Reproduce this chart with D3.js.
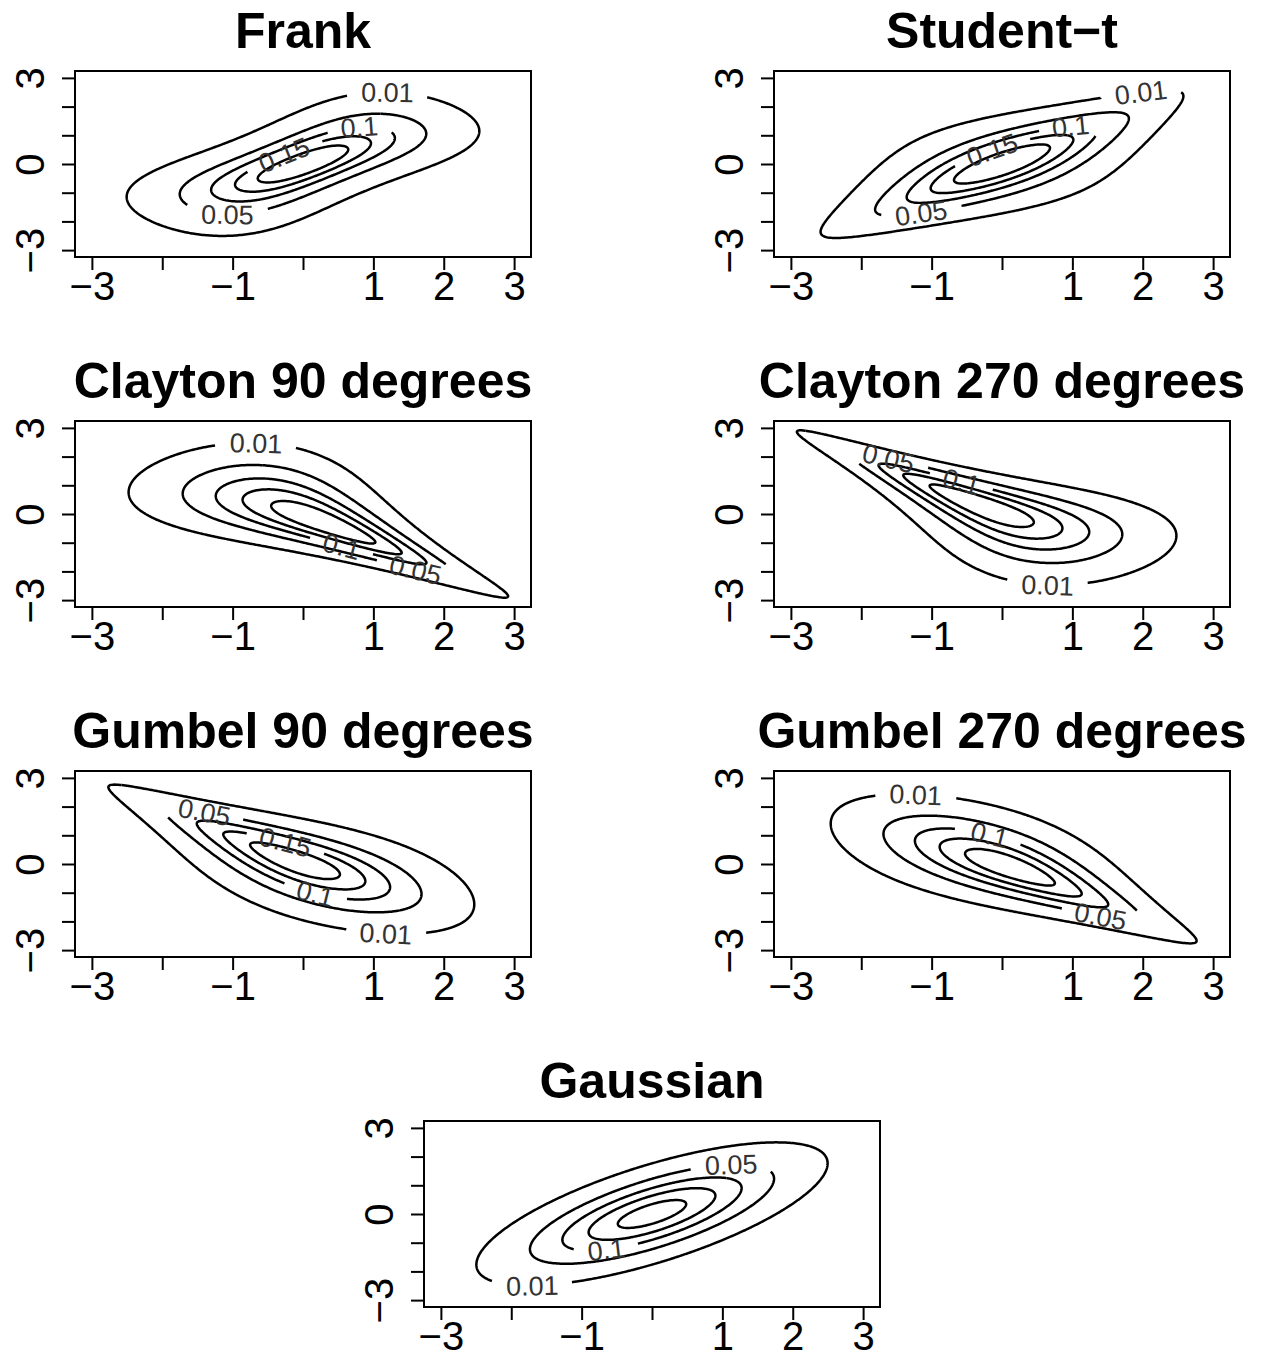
<!DOCTYPE html>
<html>
<head>
<meta charset="utf-8">
<script src="https://cdn.jsdelivr.net/npm/d3@7"></script>
<style>
body { margin: 0; background: #fff; }
svg text { font-family: "Liberation Sans", Arial, Helvetica, sans-serif; }
.clab { font-family: Roboto, "Liberation Sans", sans-serif; font-weight: 300; }
</style>
</head>
<body>
<svg id="chart" width="1263" height="1357"></svg>
<script>
// panels, in reading order
const titles = ["Frank", "Student\u2212t", "Clayton 90 degrees", "Clayton 270 degrees",
    "Gumbel 90 degrees", "Gumbel 270 degrees", "Gaussian"];
const families = ["frank", "t", "clayton90", "clayton270", "gumbel90", "gumbel270", "gaussian"];
// copula parameters (Kendall's tau of +/-0.5)
const thetas = [5.74, 0.7071, -2, -2, -2, -2, 0.7071];
const tDf = 4;

const levels = [0.01, 0.05, 0.1, 0.15, 0.2];

// where the contour labels sit: [level, x, y]
const labelSpots = [
    [[0.01, 1.2, 2.35], [0.1, 0.8, 1.02], [0.15, -0.26, 0.25], [0.05, -1.07, -1.54]],
    [[0.01, 1.99, 2.42], [0.1, 0.99, 1.09], [0.15, -0.13, 0.42], [0.05, -1.16, -1.68]],
    [[0.01, -0.67, 2.35], [0.1, 0.56, -1.02], [0.05, 1.6, -1.89]],
    [[0.05, -1.63, 1.82], [0.1, -0.58, 1.12], [0.01, 0.64, -2.32]],
    [[0.05, -1.4, 1.74], [0.15, -0.26, 0.61], [0.1, 0.18, -0.96], [0.01, 1.18, -2.37]],
    [[0.01, -1.23, 2.3], [0.1, -0.17, 1.04], [0.05, 1.41, -1.77]],
    [[0.05, 1.14, 1.49], [0.1, -0.64, -1.21], [0.01, -1.69, -2.32]]
];

const xTicks = [-3, -2, -1, 0, 1, 2, 3];
const xTickLabels = ["\u22123", "", "\u22121", "", "1", "2", "3"];
const yTicks = [-3, -2, -1, 0, 1, 2, 3];
const yTickLabels = ["\u22123", "", "", "0", "", "", "3"];

// layout
const panelLeft = [75, 774, 75, 774, 75, 774, 424];
const panelTop = [71, 71, 421, 421, 771, 771, 1121];
const W = 456, H = 186;

// ---- distributions ----
function erfc(x) {
    const z = Math.abs(x);
    const t = 1 / (1 + 0.5 * z);
    const r = t * Math.exp(-z * z - 1.26551223 + t * (1.00002368 + t * (0.37409196 + t * (0.09678418 +
        t * (-0.18628806 + t * (0.27886807 + t * (-1.13520398 + t * (1.48851587 +
        t * (-0.82215223 + t * 0.17087277)))))))));
    return x >= 0 ? r : 2 - r;
}
function pnorm(x) { return 0.5 * erfc(-x / Math.SQRT2); }
function dnorm(x) { return Math.exp(-x * x / 2) / Math.sqrt(2 * Math.PI); }

function gammaFn(z) {
    const c = [0.99999999999980993, 676.5203681218851, -1259.1392167224028, 771.32342877765313,
        -176.61502916214059, 12.507343278686905, -0.13857109526572012, 9.9843695780195716e-6,
        1.5056327351493116e-7];
    if (z < 0.5) return Math.PI / (Math.sin(Math.PI * z) * gammaFn(1 - z));
    z -= 1;
    let x = c[0];
    for (let i = 1; i < 9; i++) x += c[i] / (z + i);
    const t = z + 7.5;
    return Math.sqrt(2 * Math.PI) * Math.pow(t, z + 0.5) * Math.exp(-t) * x;
}

function studentT(nu) {
    const k = gammaFn((nu + 1) / 2) / (Math.sqrt(nu * Math.PI) * gammaFn(nu / 2));
    const dens = a => k * Math.pow(1 + a * a / nu, -(nu + 1) / 2);
    // cumulative table from 0 upwards, used to invert the cdf
    const h = 0.002, n = 30000;
    const cum = new Float64Array(n + 1);
    let prev = dens(0);
    for (let i = 1; i <= n; i++) {
        const d = dens(i * h);
        cum[i] = cum[i - 1] + (prev + d) * h / 2;
        prev = d;
    }
    const quant = (u, ub) => {
        const s = 0.5 - Math.min(u, ub);
        let lo = 0, hi = n;
        while (hi - lo > 1) {
            const mid = (lo + hi) >> 1;
            if (cum[mid] < s) lo = mid; else hi = mid;
        }
        const f = (s - cum[lo]) / (cum[hi] - cum[lo] || 1);
        const q = (lo + f) * h;
        return u < ub ? -q : q;
    };
    return { dens, quant };
}

function frankC(u, v, th) {
    const a = -Math.expm1(-th), b = -Math.expm1(-th * u), c = -Math.expm1(-th * v);
    const den = a - b * c;
    return th * a * Math.exp(-th * (u + v)) / (den * den);
}
function claytonC(u, v, th) {
    return (1 + th) * Math.pow(u * v, -1 - th) * Math.pow(Math.pow(u, -th) + Math.pow(v, -th) - 1, -1 / th - 2);
}
function negLog(p, pb) { return p > 0.5 ? -Math.log1p(-pb) : -Math.log(p); }
function gumbelC(u, ub, v, vb, th) {
    const lu = negLog(u, ub), lv = negLog(v, vb);
    const A = Math.pow(lu, th) + Math.pow(lv, th);
    const w = Math.pow(A, 1 / th);
    return Math.exp(-w) / (u * v) * Math.pow(lu * lv, th - 1) * Math.pow(w, 1 - 2 * th) * (w + th - 1);
}

const N = 241, STEP = 6 / (N - 1);
const gridPts = d3.range(N).map(i => -3 + i * STEP);

function densityGrid(fam, th) {
    const u = gridPts.map(v => pnorm(v));
    const ub = gridPts.map(v => pnorm(-v));
    const ph = gridPts.map(dnorm);
    const ath = Math.abs(th);
    let tq = null, st = null;
    if (fam === "t") {
        st = studentT(tDf);
        tq = gridPts.map((v, i) => st.quant(u[i], ub[i]));
    }
    const values = new Float64Array(N * N);
    for (let j = 0; j < N; j++) {
        for (let i = 0; i < N; i++) {
            let c;
            if (fam === "frank") c = frankC(u[i], u[j], th);
            else if (fam === "clayton90") c = claytonC(ub[i], u[j], ath);
            else if (fam === "clayton270") c = claytonC(u[i], ub[j], ath);
            else if (fam === "gumbel90") c = gumbelC(ub[i], u[i], u[j], ub[j], ath);
            else if (fam === "gumbel270") c = gumbelC(u[i], ub[i], ub[j], u[j], ath);
            else if (fam === "t") {
                const a = tq[i], b = tq[j], r = th, s = 1 - r * r;
                const joint = Math.pow(1 + (a * a - 2 * r * a * b + b * b) / (tDf * s), -(tDf + 2) / 2) /
                    (2 * Math.PI * Math.sqrt(s));
                c = joint / (st.dens(a) * st.dens(b));
            } else {
                const x = gridPts[i], y = gridPts[j], r = th, s = 1 - r * r;
                values[j * N + i] = Math.exp(-(x * x - 2 * r * x * y + y * y) / (2 * s)) / (2 * Math.PI * Math.sqrt(s));
                continue;
            }
            values[j * N + i] = c * ph[i] * ph[j];
        }
    }
    return values;
}

function runLength(run) {
    let len = 0;
    for (let i = 1; i < run.length; i++) len += Math.hypot(run[i][0] - run[i - 1][0], run[i][1] - run[i - 1][1]);
    return len;
}

function splitRing(ring, cuts) {
    const inside = p => cuts.some(c => {
        const dx = p[0] - c.cx, dy = p[1] - c.cy;
        const along = dx * Math.cos(c.a) + dy * Math.sin(c.a);
        const across = -dx * Math.sin(c.a) + dy * Math.cos(c.a);
        return Math.abs(along) < c.hw && Math.abs(across) < c.hh;
    });
    const pts = ring.slice(0, -1);
    const flags = pts.map(inside);
    const start = flags.indexOf(false);
    if (start < 0) return [];
    if (!flags.includes(true)) return [ring];
    const runs = [];
    let cur = [];
    for (let s = 0; s <= pts.length; s++) {
        const k = (start + s) % pts.length;
        if (!flags[k]) cur.push(pts[k]);
        else { if (cur.length > 1) runs.push(cur); cur = []; }
    }
    if (cur.length > 1) runs.push(cur);
    // drop the little stubs left over at a contour's tip
    return runs.filter(r => runLength(r) > 10);
}

const svg = d3.select("#chart");
const line = d3.line();

families.forEach((fam, pi) => {
    const g = svg.append("g").attr("transform", `translate(${panelLeft[pi]},${panelTop[pi]})`);
    const x = d3.scaleLinear().domain([-3.24, 3.24]).range([0, W]);
    const y = d3.scaleLinear().domain([-3.24, 3.24]).range([H, 0]);

    const values = densityGrid(fam, thetas[pi]);
    const cs = d3.contours().size([N, N]).thresholds(levels)(values);

    // rings in pixel coordinates, per level
    const rings = levels.map(() => []);
    cs.forEach(c => {
        const li = levels.indexOf(c.value);
        c.coordinates.forEach(poly => poly.forEach(ring => {
            rings[li].push(ring.map(p => [x(-3 + (p[0] - 0.5) * STEP), y(-3 + (p[1] - 0.5) * STEP)]));
        }));
    });

    const linesG = g.append("g").attr("fill", "none").attr("stroke", "#000")
        .attr("stroke-width", 2.5).attr("stroke-linejoin", "round");
    const labG = g.append("g").attr("class", "clab").attr("font-size", 27).attr("fill", "#333");

    const cuts = levels.map(() => []);
    labelSpots[pi].forEach(([lev, lx, ly]) => {
        const li = levels.indexOf(lev);
        const tx = x(lx), ty = y(ly);
        let best = null, bd = Infinity;
        rings[li].forEach((r, ri) => r.forEach((p, k) => {
            const d = (p[0] - tx) ** 2 + (p[1] - ty) ** 2;
            if (d < bd) { bd = d; best = [ri, k]; }
        }));
        if (!best) return;
        const r = rings[li][best[0]], m = r.length - 1, k = best[1] % m;
        const pa = r[(k - 5 + m) % m], pb = r[(k + 5) % m];
        let ang = Math.atan2(pb[1] - pa[1], pb[0] - pa[0]) * 180 / Math.PI;
        if (ang > 90) ang -= 180;
        if (ang < -90) ang += 180;
        const cx = r[k][0], cy = r[k][1];
        const t = labG.append("text")
            .attr("transform", `translate(${cx},${cy}) rotate(${ang})`)
            .attr("text-anchor", "middle")
            .attr("dy", "0.36em")
            .text(String(lev));
        const w = t.node().getComputedTextLength();
        cuts[li].push({ cx, cy, a: ang * Math.PI / 180, hw: w / 2 + 13, hh: 12 });
    });

    rings.forEach((rs, li) => rs.forEach(r => {
        splitRing(r, cuts[li]).forEach(run => linesG.append("path").attr("d", line(run)));
    }));

    // axes
    const ax = g.append("g").attr("transform", `translate(0,${H})`)
        .call(d3.axisBottom(x).tickValues(xTicks).tickFormat((d, i) => xTickLabels[i]).tickSize(13));
    ax.select(".domain").remove();
    ax.attr("font-size", 40).attr("font-family", null);
    ax.selectAll("line").attr("stroke-width", 2);
    ax.selectAll("text").attr("y", 43).attr("dy", null).attr("fill", "#000");

    const ay = g.append("g")
        .call(d3.axisLeft(y).tickValues(yTicks).tickFormat((d, i) => yTickLabels[i]).tickSize(13));
    ay.select(".domain").remove();
    ay.attr("font-size", 40).attr("font-family", null);
    ay.selectAll("line").attr("stroke-width", 2);
    ay.selectAll("text").attr("x", 0).attr("dy", null).attr("text-anchor", "middle").attr("fill", "#000")
        .attr("transform", "translate(-31,0) rotate(-90)");

    g.append("rect").attr("width", W).attr("height", H)
        .attr("fill", "none").attr("stroke", "#000").attr("stroke-width", 2);

    g.append("text").attr("x", W / 2).attr("y", -23)
        .attr("text-anchor", "middle").attr("font-size", 50).attr("font-weight", "bold")
        .text(titles[pi]);
});
</script>
</body>
</html>
